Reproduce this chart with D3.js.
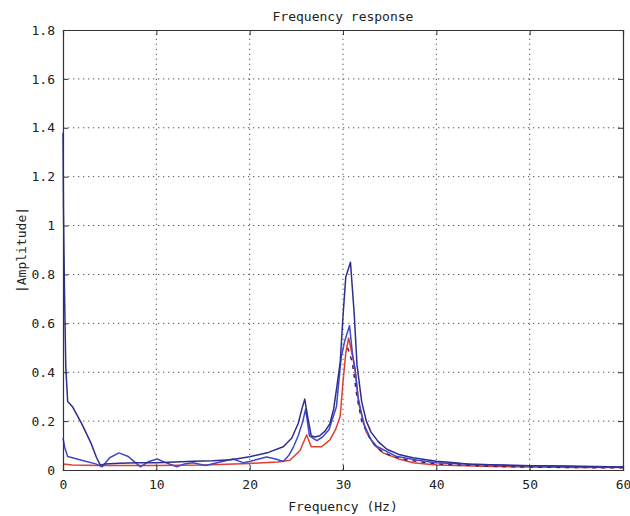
<!DOCTYPE html>
<html lang="en">
<head>
<meta charset="UTF-8">
<title>Frequency response</title>
<script src="https://cdn.jsdelivr.net/npm/d3@7"></script>
<style>
    html, body { margin: 0; padding: 0; background: #fff; }
    svg { display: block; }
    text { font-family: "DejaVu Sans Mono", monospace; fill: #222; }
</style>
</head>
<body>
<script>
// values (Hz, |amplitude|)
const xTicks = [0, 10, 20, 30, 40, 50, 60]
const yTicks = [0, 0.2, 0.4, 0.6, 0.8, 1, 1.2, 1.4, 1.6, 1.8]

// navy curve (tallest peak)
const navyFreq = [0, 0.05, 0.15, 0.3, 0.5, 1, 2, 3, 3.6, 4, 4.5, 6, 8, 10, 12, 14, 16, 18, 20, 22, 23.6, 24.5, 25.2, 25.6, 25.9, 26.2, 26.6, 27, 27.5, 28.1, 28.6, 29, 29.3, 29.7, 30, 30.3, 30.8, 31.2, 31.5, 32, 32.5, 33, 33.8, 34.7, 36.1, 37.5, 40, 42, 44, 47, 50, 54, 57, 60]
const navyAmp  = [1.38, 1.07, 0.75, 0.42, 0.28, 0.26, 0.19, 0.11, 0.05, 0.02, 0.025, 0.028, 0.03, 0.03, 0.033, 0.036, 0.038, 0.042, 0.054, 0.072, 0.095, 0.13, 0.19, 0.25, 0.29, 0.22, 0.14, 0.135, 0.14, 0.16, 0.19, 0.25, 0.33, 0.44, 0.63, 0.79, 0.85, 0.64, 0.43, 0.28, 0.2, 0.155, 0.115, 0.085, 0.062, 0.05, 0.036, 0.03, 0.022, 0.02, 0.017, 0.016, 0.014, 0.012]

// blue curve (middle peak)
const blueFreq = [0, 0.2, 0.5, 1.5, 2.5, 3.5, 4.2, 5, 6, 7, 8.3, 9.2, 10.1, 11, 12.2, 13, 13.9, 15.3, 16.5, 18.2, 19.3, 20, 21, 21.8, 22.8, 23.6, 24.2, 24.7, 25.2, 25.7, 26, 26.4, 27.2, 27.8, 28.5, 29.3, 29.8, 30.2, 30.7, 31, 31.3, 31.6, 32.2, 33, 33.6, 35.7, 38, 40, 43, 45, 48, 52, 55, 60]
const blueAmp  = [0.13, 0.09, 0.055, 0.045, 0.035, 0.025, 0.013, 0.05, 0.07, 0.055, 0.013, 0.035, 0.045, 0.03, 0.013, 0.025, 0.03, 0.018, 0.03, 0.045, 0.03, 0.035, 0.045, 0.053, 0.045, 0.035, 0.06, 0.095, 0.14, 0.2, 0.25, 0.14, 0.12, 0.135, 0.165, 0.26, 0.46, 0.53, 0.59, 0.48, 0.41, 0.3, 0.19, 0.125, 0.097, 0.056, 0.04, 0.03, 0.025, 0.022, 0.018, 0.016, 0.013, 0.012]

// red curve (lowest)
const redFreq = [0, 1, 4, 10, 15, 20, 23, 24.3, 25.4, 26.1, 26.6, 27.7, 28.6, 29.2, 29.7, 30, 30.3, 30.6, 31, 31.3, 31.7, 32.5, 33.4, 34.3, 36, 37.5, 40, 45, 50, 55, 60]
const redAmp  = [0.025, 0.02, 0.018, 0.018, 0.02, 0.027, 0.033, 0.04, 0.08, 0.143, 0.095, 0.095, 0.123, 0.165, 0.22, 0.36, 0.48, 0.54, 0.47, 0.41, 0.27, 0.155, 0.1, 0.07, 0.045, 0.03, 0.02, 0.015, 0.012, 0.01, 0.01]

// dark dashed trace sitting on the red tail
const darkFreq = [30.5, 31, 31.5, 32, 33, 34, 35, 37, 40, 43, 46, 50, 55, 60]
const darkAmp  = [0.5, 0.44, 0.3, 0.2, 0.12, 0.08, 0.06, 0.04, 0.025, 0.02, 0.015, 0.012, 0.01, 0.009]

const W = 630, H = 516
const m = {left: 63, right: 7, top: 30, bottom: 46}

const svg = d3.select('body').append('svg')
    .attr('width', W)
    .attr('height', H)

const x = d3.scaleLinear().domain([0, 60]).range([m.left, W - m.right])
const y = d3.scaleLinear().domain([0, 1.8]).range([H - m.bottom, m.top])

//网格,点线
const grid = svg.append('g')
grid.selectAll('line.gx')
    .data(xTicks.slice(1, -1))
    .join('line')
    .attr('x1', d => x(d)).attr('x2', d => x(d))
    .attr('y1', y(0)).attr('y2', y(1.8))
grid.selectAll('line.gy')
    .data(yTicks.slice(1, -1))
    .join('line')
    .attr('y1', d => y(d)).attr('y2', d => y(d))
    .attr('x1', x(0)).attr('x2', x(60))
grid.selectAll('line')
    .attr('stroke', '#555')
    .attr('stroke-width', 1)
    .attr('stroke-dasharray', '1.3,3.7')

//曲线
const line = d3.line()
    .x(d => x(d[0]))
    .y(d => y(d[1]))

const series = [
    {f: redFreq, a: redAmp, color: '#dc4030', dash: null},
    {f: darkFreq, a: darkAmp, color: '#3b1d70', dash: '4,5'},
    {f: blueFreq, a: blueAmp, color: '#4048c8', dash: null},
    {f: navyFreq, a: navyAmp, color: '#2e2e8e', dash: null}
]

svg.append('g').selectAll('path')
    .data(series)
    .join('path')
    .attr('d', s => line(s.f.map((f, i) => [f, s.a[i]])))
    .attr('fill', 'none')
    .attr('stroke', s => s.color)
    .attr('stroke-width', 1.5)
    .attr('stroke-dasharray', s => s.dash)
    .attr('stroke-linejoin', 'round')

//坐标轴,刻度向内
const tick = 5
svg.append('g')
    .attr('transform', `translate(0,${y(0)})`)
    .call(d3.axisBottom(x).tickValues(xTicks).tickSize(-tick).tickPadding(10).tickFormat(d3.format('d')))
svg.append('g')
    .attr('transform', `translate(0,${y(1.8)})`)
    .call(d3.axisTop(x).tickValues(xTicks).tickSize(-tick).tickFormat(''))
svg.append('g')
    .attr('transform', `translate(${x(0)},0)`)
    .call(d3.axisLeft(y).tickValues(yTicks).tickSize(-tick).tickPadding(8).tickFormat(d => d3.format('~g')(d)))
svg.append('g')
    .attr('transform', `translate(${x(60)},0)`)
    .call(d3.axisRight(y).tickValues(yTicks).tickSize(-tick).tickFormat(''))

svg.selectAll('.domain').attr('stroke', '#333').attr('stroke-width', 1.2)
svg.selectAll('.tick line').attr('stroke', '#333')
svg.selectAll('.tick text')
    .style('font-family', '"DejaVu Sans Mono", monospace')
    .style('font-size', '13px')
    .attr('fill', '#222')

// 标题和标签
svg.append('text')
    .attr('x', (x(0) + x(60)) / 2)
    .attr('y', 21)
    .attr('text-anchor', 'middle')
    .style('font-size', '13px')
    .text('Frequency response')

svg.append('text')
    .attr('x', (x(0) + x(60)) / 2)
    .attr('y', 511)
    .attr('text-anchor', 'middle')
    .style('font-size', '13px')
    .text('Frequency (Hz)')

svg.append('text')
    .attr('transform', `translate(26,${(y(0) + y(1.8)) / 2}) rotate(-90)`)
    .attr('text-anchor', 'middle')
    .style('font-size', '13px')
    .text('|Amplitude|')
</script>
</body>
</html>
